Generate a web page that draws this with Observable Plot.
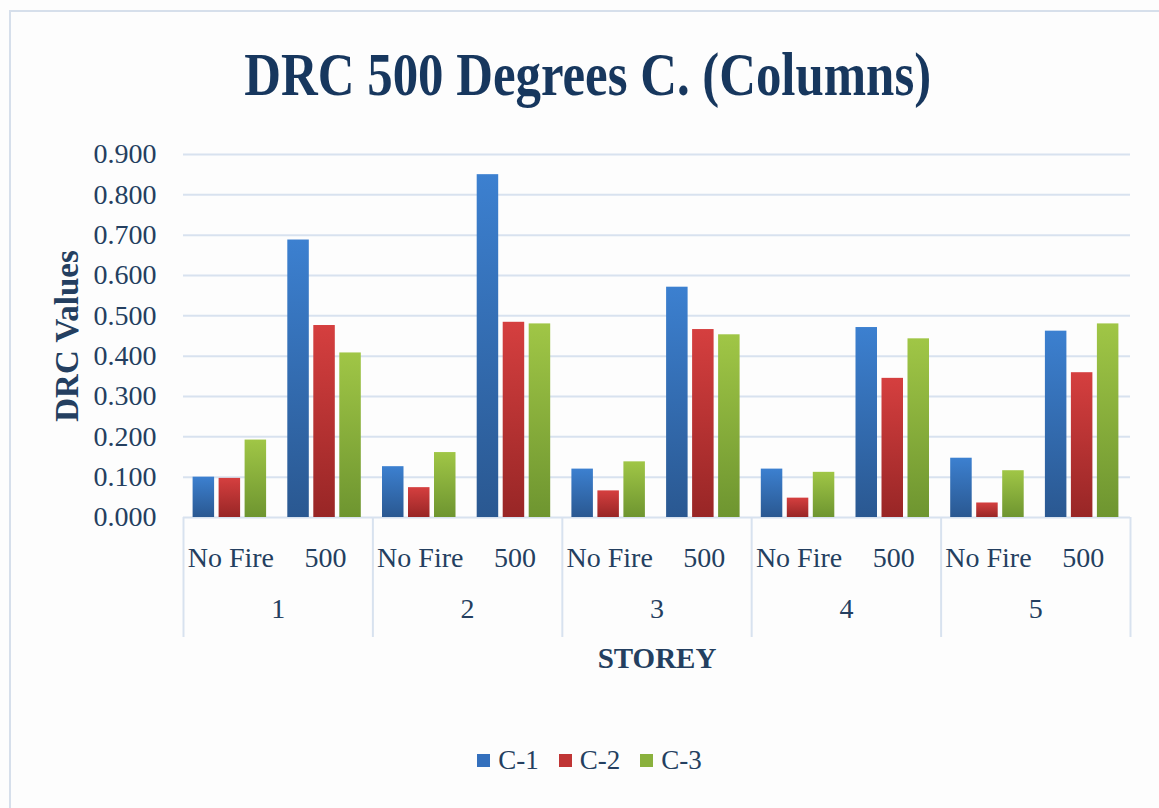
<!DOCTYPE html>
<html><head><meta charset="utf-8">
<script src="https://cdn.jsdelivr.net/npm/d3@7"></script>
<script src="https://cdn.jsdelivr.net/npm/@observablehq/plot@0.6"></script>
<style>
body{margin:0;background:#fff;}
#wrap{position:relative;width:1159px;height:808px;overflow:hidden;background:#fdfdfd;}
#frame{position:absolute;left:9px;top:10px;right:-5px;bottom:-5px;border-top:2px solid #d6dfeb;border-left:2px solid #d6dfeb;}
#title{position:absolute;left:8px;width:1159px;top:39px;height:70px;line-height:70px;text-align:center;font-family:"Liberation Serif",serif;font-weight:bold;font-size:62px;color:#17375e;white-space:nowrap;}
#title span{display:inline-block;transform:scaleX(0.82);}
#chart{position:absolute;left:0;top:130px;}
#legend{position:absolute;top:740px;left:10px;width:1159px;height:40px;display:flex;justify-content:center;align-items:center;font-family:"Liberation Serif",serif;font-size:27px;color:#243f60;}
#legend .item{display:flex;align-items:center;margin:0 10px;}
#legend .sw{width:13px;height:13px;margin-right:8px;}
</style></head>
<body>
<div id="wrap">
  <div id="frame"></div>
  <div id="title"><span>DRC 500 Degrees C. (Columns)</span></div>
  <div id="chart"></div>
  <div id="legend"></div>
</div>
<script>
// ---- data ----
const storeys = ["1", "2", "3", "4", "5"];
const conditions = ["No Fire", "500"];
const series = ["C-1", "C-2", "C-3"];
// values in order: storey 1 No Fire, storey 1 500, storey 2 No Fire, ...
const c1 = [0.100, 0.688, 0.126, 0.850, 0.120, 0.571, 0.120, 0.471, 0.147, 0.462];
const c2 = [0.097, 0.476, 0.074, 0.484, 0.066, 0.466, 0.048, 0.345, 0.036, 0.359];
const c3 = [0.192, 0.408, 0.161, 0.480, 0.138, 0.453, 0.112, 0.443, 0.116, 0.480];
const yTicks = [0, 0.1, 0.2, 0.3, 0.4, 0.5, 0.6, 0.7, 0.8, 0.9];
const seriesValues = [c1, c2, c3];

// ---- styling ----
const gradStops = [["#3c80d0", "#2a5891"], ["#d53f3f", "#982626"], ["#a0c646", "#6e9530"]];
const swatch = ["#3470bd", "#c03535", "#8ab13d"];
const ink = "#243f60";
const gridColor = "#d8e2ef";

const categories = storeys.flatMap(s => conditions.map(c => `${s}|${c}`));
const rowsFor = vals => categories.map((cat, i) => ({cat, v: vals[i]}));

const W = 1159, H = 570, mL = 183, mR = 29, mT = 24, mB = 183;
const step = (W - mL - mR) / categories.length;
const bw = 21.5, gap = 4.5;
const outer = (step - 3 * bw - 2 * gap) / 2;
const plotH = H - mT - mB;

const barMarks = series.map((s, k) => Plot.barY(rowsFor(seriesValues[k]), {
  x: "cat", y: "v", fill: `url(#grad${k})`,
  insetLeft: outer + k * (bw + gap) - 1,
  insetRight: step - outer - k * (bw + gap) - bw + 1
}));

const svg = Plot.plot({
  width: W, height: H,
  marginLeft: mL, marginRight: mR, marginTop: mT, marginBottom: mB,
  style: {fontFamily: "Liberation Serif, serif", fontSize: "28px", color: ink, background: "transparent", overflow: "visible"},
  x: {type: "band", domain: categories, padding: 0, round: false, tickFormat: d => d.split("|")[1], tickSize: 0, tickPadding: 30, label: null},
  y: {domain: [0, 0.9], ticks: yTicks, tickFormat: d3.format(".3f"), tickSize: 0, tickPadding: 27, label: null},
  marks: [
    Plot.ruleY(yTicks, {stroke: gridColor, strokeWidth: 2}),
    Plot.ruleX(storeys, {x: d => `${d}|No Fire`, dx: -step / 2, stroke: gridColor, strokeWidth: 2, insetTop: plotH, insetBottom: -120}),
    Plot.ruleX([storeys[storeys.length - 1]], {x: d => `${d}|500`, dx: step / 2, stroke: gridColor, strokeWidth: 2, insetTop: plotH, insetBottom: -120}),
    ...barMarks,
    Plot.text(storeys, {x: d => `${d}|No Fire`, text: d => d, dx: step / 2, frameAnchor: "bottom", dy: 100, fill: ink, fontSize: 28}),
    Plot.text(["STOREY"], {frameAnchor: "bottom", dy: 150, fill: ink, fontSize: 29, fontWeight: "bold"}),
    Plot.text(["DRC Values"], {frameAnchor: "left", rotate: -90, textAnchor: "middle", dx: -116, fill: ink, fontSize: 33, fontWeight: "bold"})
  ]
});

// gradient definitions for the bar fills
const defs = d3.select(svg).insert("defs", ":first-child");
gradStops.forEach(([top, bottom], k) => {
  const g = defs.append("linearGradient").attr("id", `grad${k}`).attr("x1", 0).attr("y1", 0).attr("x2", 0).attr("y2", 1);
  g.append("stop").attr("offset", "0%").attr("stop-color", top);
  g.append("stop").attr("offset", "100%").attr("stop-color", bottom);
});
document.getElementById("chart").appendChild(svg);

// legend
const legend = d3.select("#legend");
series.forEach((s, k) => {
  const it = legend.append("div").attr("class", "item");
  it.append("div").attr("class", "sw").style("background", swatch[k]);
  it.append("span").text(s);
});
</script>
</body></html>
